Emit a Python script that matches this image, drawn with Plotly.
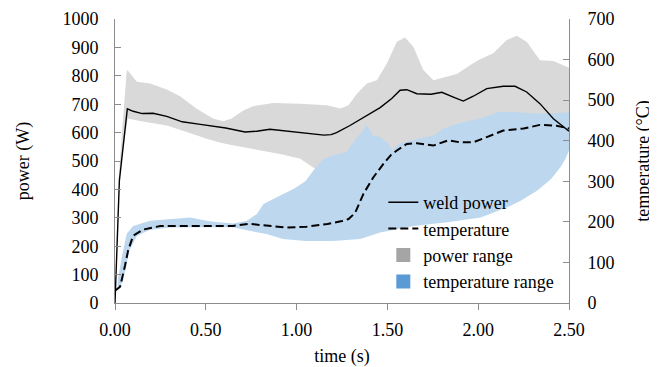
import plotly.graph_objects as go

# ---------------- data ----------------
t_power = [0, 0.024, 0.068, 0.10, 0.15, 0.21, 0.285, 0.37, 0.47, 0.61, 0.716, 0.78, 0.853,
           0.945, 1.019, 1.10, 1.15, 1.19, 1.22, 1.294, 1.368, 1.46, 1.524, 1.57, 1.607,
           1.662, 1.74, 1.80, 1.863, 1.918, 1.973, 2.047, 2.138, 2.203, 2.267, 2.34, 2.414,
           2.469, 2.50]
weld_power = [0, 430, 684, 675, 667, 668, 657, 638, 629, 616, 602, 605, 612,
              605, 602, 595, 591, 593, 600, 625, 652, 688, 720, 749, 751,
              737, 735, 742, 725, 711, 728, 755, 763, 763, 743, 702, 649,
              619, 605]

t_temp = [0, 0.028, 0.055, 0.072, 0.10, 0.155, 0.25, 0.38, 0.52, 0.65, 0.74, 0.85, 0.945,
          1.055, 1.17, 1.25, 1.286, 1.322, 1.368, 1.423, 1.478, 1.52, 1.552, 1.607, 1.662,
          1.753, 1.836, 1.90, 1.973, 2.047, 2.138, 2.25, 2.34, 2.432, 2.50]
temperature = [30, 40, 92, 129, 166, 181, 190, 190, 189, 190, 195, 190, 186,
               188, 195, 202, 207, 222, 269, 310, 343, 365, 376, 392, 394,
               388, 401, 396, 396, 409, 425, 430, 439, 437, 430]

t_power_hi = [0.02, 0.04, 0.065, 0.075, 0.12, 0.193, 0.285, 0.358, 0.45, 0.54, 0.595, 0.64,
              0.707, 0.76, 0.87, 1.019, 1.166, 1.24, 1.286, 1.332, 1.387, 1.442, 1.497,
              1.552, 1.597, 1.643, 1.698, 1.753, 1.808, 1.882, 1.955, 2.0, 2.083, 2.157,
              2.212, 2.267, 2.34, 2.414, 2.50]
power_hi = [440, 600, 820, 815, 779, 773, 752, 728, 684, 650, 640, 649,
            678, 693, 704, 702, 696, 685, 696, 737, 773, 784, 843,
            920, 935, 902, 820, 784, 794, 806, 837, 855, 879, 926,
            941, 920, 855, 852, 828]

t_power_lo = [0.02, 0.04, 0.07, 0.138, 0.285, 0.395, 0.505, 0.57, 0.634, 0.70, 0.80, 0.91,
              1.02, 1.09, 1.13, 1.3, 1.5, 1.7, 2.0, 2.3, 2.5]
power_lo = [430, 520, 650, 641, 625, 602, 578, 566, 557, 549, 537, 525,
            508, 478, 460, 470, 480, 500, 520, 560, 580]

t_temp_hi = [0.015, 0.037, 0.064, 0.10, 0.193, 0.285, 0.414, 0.505, 0.57, 0.651, 0.726, 0.78,
             0.818, 0.91, 0.983, 1.048, 1.10, 1.147, 1.202, 1.276, 1.32, 1.357, 1.384, 1.40,
             1.42, 1.46, 1.507, 1.526, 1.552, 1.589, 1.664, 1.754, 1.81, 1.885, 1.94, 1.99,
             2.068, 2.105, 2.18, 2.325, 2.435, 2.50]
temp_hi = [55, 112, 170, 190, 203, 207, 211, 203, 199, 196, 203, 219,
           244, 265, 281, 300, 331, 355, 364, 372, 401, 421, 438, 430,
           413, 409, 392, 376, 388, 396, 404, 413, 430, 442, 448, 452,
           463, 471, 471, 467, 468, 471]

t_temp_lo = [0.015, 0.045, 0.08, 0.12, 0.19, 0.3, 0.5, 0.65, 0.74, 0.834, 0.925, 1.05, 1.20,
             1.35, 1.46, 1.645, 1.83, 2.014, 2.16, 2.234, 2.326, 2.40, 2.454, 2.48, 2.50]
temp_lo = [30, 55, 130, 165, 180, 186, 187, 187, 178, 170, 158, 153, 153,
           158, 174, 190, 199, 211, 236, 252, 277, 305, 335, 355, 376]

x_ticks = [0, 0.5, 1.0, 1.5, 2.0, 2.5]

# ---------------- figure ----------------
FONT = "Liberation Serif"
AX = "#8c8c8c"
fig = go.Figure()

fig.add_trace(go.Scatter(
    x=t_power_hi + t_power_lo[::-1], y=power_hi + power_lo[::-1],
    fill="toself", fillcolor="#D9D9D9", line=dict(width=0), mode="lines",
    showlegend=False, hoverinfo="skip", yaxis="y"))
fig.add_trace(go.Scatter(
    x=t_temp_hi + t_temp_lo[::-1], y=temp_hi + temp_lo[::-1],
    fill="toself", fillcolor="#BDD7EE", line=dict(width=0), mode="lines",
    showlegend=False, hoverinfo="skip", yaxis="y2"))
fig.add_trace(go.Scatter(
    x=t_temp, y=temperature, mode="lines", name="temperature", legendrank=2,
    line=dict(color="black", width=2, dash="8px,4px"), yaxis="y2"))
fig.add_trace(go.Scatter(
    x=t_power, y=weld_power, mode="lines", name="weld power", legendrank=1,
    line=dict(color="black", width=1.4), yaxis="y3"))
fig.add_trace(go.Scatter(
    x=[None], y=[None], mode="markers", name="power range", legendrank=3,
    marker=dict(symbol="square", size=14, color="#A5A5A5"), yaxis="y"))
fig.add_trace(go.Scatter(
    x=[None], y=[None], mode="markers", name="temperature range", legendrank=4,
    marker=dict(symbol="square", size=14, color="#5B9BD5"), yaxis="y"))

axis_common = dict(showgrid=False, zeroline=False, showline=True, linecolor=AX,
                   linewidth=1, tickcolor=AX, ticklen=6, tickwidth=1, automargin=False,
                   tickfont=dict(family=FONT, size=18, color="black"))

# the page adds an 8px body margin, so the figure is 8px smaller than the window
fig.update_layout(
    width=649, height=359,
    margin=dict(l=107, r=88, t=11, b=64, autoexpand=False),
    paper_bgcolor="white", plot_bgcolor="white",
    font=dict(family=FONT, size=18, color="black"),
    xaxis=dict(range=[0, 2.5], tickvals=x_ticks, tickformat=".2f", ticks="outside",
               ticklabelstandoff=4,
               title=dict(text="time (s)", font=dict(family=FONT, size=18), standoff=12),
               **axis_common),
    yaxis=dict(range=[0, 1000], dtick=100, ticks="inside", ticklabelstandoff=12,
               title=dict(text="power (W)", font=dict(family=FONT, size=18), standoff=28),
               **axis_common),
    yaxis2=dict(range=[0, 700], dtick=100, ticks="inside", overlaying="y", side="right",
                anchor="x", ticklabelstandoff=14,
                title=dict(text="temperature (°C)", font=dict(family=FONT, size=18), standoff=22),
                **axis_common),
    yaxis3=dict(range=[0, 1000], overlaying="y", visible=False),
    legend=dict(x=0.591, y=0.419, xanchor="left", yanchor="top",
                bgcolor="rgba(0,0,0,0)", font=dict(family=FONT, size=18, color="black"),
                itemwidth=30, tracegroupgap=0),
    showlegend=True,
)

fig.write_html("out.html")
